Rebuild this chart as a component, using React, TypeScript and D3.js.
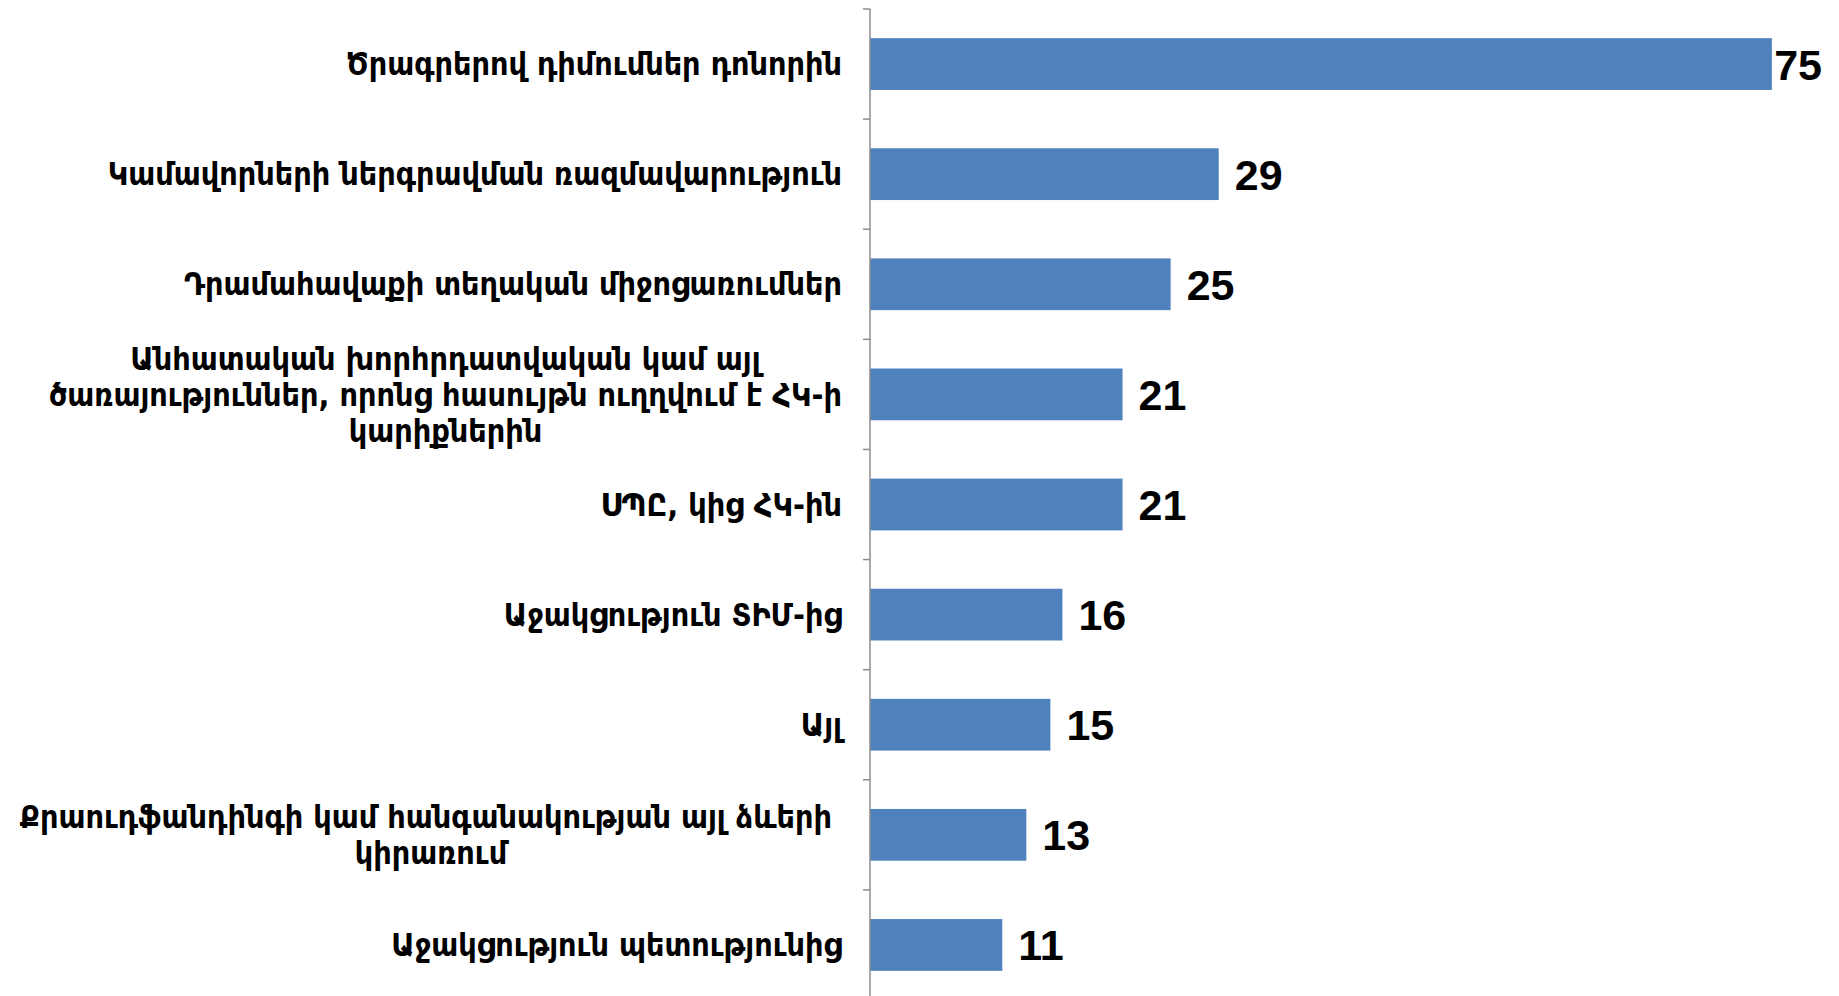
import { useEffect, useRef } from 'react'
import * as d3 from 'd3'

const categories = [
  'Ծրագրերով դիմումներ դոնորին',
  'Կամավորների ներգրավման ռազմավարություն',
  'Դրամահավաքի տեղական միջոցառումներ',
  'Անհատական խորհրդատվական կամ այլ\nծառայություններ, որոնց հասույթն ուղղվում է ՀԿ-ի\nկարիքներին',
  'ՍՊԸ, կից ՀԿ-ին',
  'Աջակցություն ՏԻՄ-ից',
  'Այլ',
  'Քրաուդֆանդինգի կամ հանգանակության այլ ձևերի \nկիրառում',
  'Աջակցություն պետությունից',
]
const values = [75, 29, 25, 21, 21, 16, 15, 13, 11]
const xDomain = [0, 80]

const W = 1839
const H = 996

export default function App() {
  const ref = useRef<SVGSVGElement>(null)

  useEffect(() => {
    document.body.style.margin = '0'
    if (!ref.current) return
    const svg = d3.select(ref.current)
    svg.selectAll('*').remove()

    const axisX = 870
    const labelRight = 842
    const plotRight = 1822

    const x = d3.scaleLinear().domain(xDomain).range([axisX, 1832])
    const y = d3.scaleBand<string>()
      .domain(categories)
      .range([9, 1000])
      .paddingInner(0.53)
      .paddingOuter(0.265)

    // bars
    svg.append('g')
      .selectAll('rect')
      .data(values)
      .enter()
      .append('rect')
      .attr('x', axisX)
      .attr('y', (d, i) => y(categories[i])!)
      .attr('width', d => x(d) - axisX)
      .attr('height', y.bandwidth())
      .attr('fill', '#4F81BD')

    // axis line + ticks at band boundaries
    const axis = svg.append('g').attr('stroke', '#8c8c8c').attr('stroke-width', 1.5)
    axis.append('line')
      .attr('x1', axisX).attr('x2', axisX)
      .attr('y1', y.range()[0]).attr('y2', H + 10)
    d3.range(categories.length + 1).forEach(i => {
      const ty = y.range()[0] + i * y.step()
      axis.append('line')
        .attr('x1', axisX - 7).attr('x2', axisX)
        .attr('y1', ty).attr('y2', ty)
    })

    // category labels
    const lineH = 36
    categories.forEach(cat => {
      const lines = cat.split('\n')
      const cy = y(cat)! + y.bandwidth() / 2
      const g = svg.append('g')
      const texts = lines.map((ln, j) =>
        g.append('text')
          .attr('y', cy + (j - (lines.length - 1) / 2) * lineH)
          .attr('dy', '0.35em')
          .attr('text-anchor', 'middle')
          .attr('font-family', '"DejaVu Sans Condensed", "DejaVu Sans", sans-serif')
          .attr('font-weight', 'bold')
          .attr('font-size', 32)
          .style('white-space', 'pre')
          .text(ln)
      )
      const maxW = d3.max(texts, t => (t.node() as SVGTextElement).getComputedTextLength()) || 0
      texts.forEach(t => t.attr('x', labelRight - maxW / 2))
    })

    // value labels
    values.forEach((v, i) => {
      const cy = y(categories[i])! + y.bandwidth() / 2
      const t = svg.append('text')
        .attr('y', cy)
        .attr('dy', '0.36em')
        .attr('font-family', '"Liberation Sans", Arial, sans-serif')
        .attr('font-weight', 'bold')
        .attr('font-size', 43)
        .attr('fill', '#000')
        .text(v)
      const tw = (t.node() as SVGTextElement).getComputedTextLength()
      t.attr('x', Math.min(x(v) + 16, plotRight - tw))
    })
  }, [])

  return <svg ref={ref} width={W} height={H} style={{ display: 'block', background: '#fff' }} />
}
